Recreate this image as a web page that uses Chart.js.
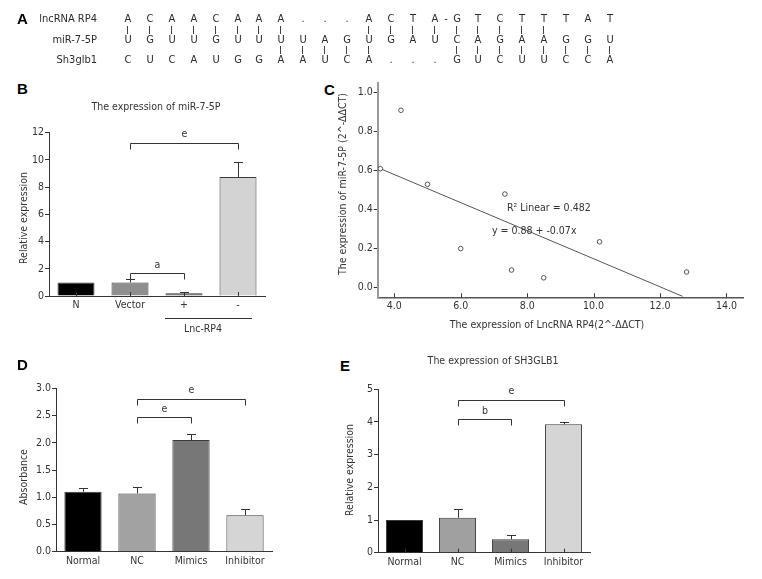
<!DOCTYPE html>
<html><head><meta charset="utf-8">
<script src="https://cdn.jsdelivr.net/npm/chart.js@4.4.1/dist/chart.umd.min.js"></script>
<style>
html,body{margin:0;padding:0;background:#fff;}
body{width:762px;height:579px;position:relative;overflow:hidden;font-family:"DejaVu Sans Condensed","DejaVu Sans",sans-serif;}
canvas{position:absolute;}
.pl{position:absolute;font:bold 15px/15px "Liberation Sans",Arial,sans-serif;color:#000;}
</style></head><body>
<canvas id="cA" width="762" height="72" style="left:0;top:0"></canvas>
<div class="pl" style="left:17px;top:11px">A</div>
<div class="pl" style="left:17px;top:81px">B</div>
<div class="pl" style="left:324px;top:82px">C</div>
<div class="pl" style="left:17px;top:357px">D</div>
<div class="pl" style="left:340px;top:358px">E</div>
<canvas id="cB" width="300" height="270" style="left:0;top:70px"></canvas>
<canvas id="cC" width="462" height="280" style="left:300px;top:60px"></canvas>
<canvas id="cD" width="300" height="239" style="left:0;top:340px"></canvas>
<canvas id="cE" width="432" height="239" style="left:330px;top:340px"></canvas>
<script>
// ---------- DATA ----------
const aRowLabels = ['lncRNA RP4','miR-7-5P','Sh3glb1'];
const seqLnc = ['A','C','A','A','C','A','A','A','.','.','.','A','C','T','A','G','T','C','T','T','T','A','T'];
const seqMir = ['U','G','U','U','G','U','U','U','U','A','G','U','G','A','U','C','A','G','A','A','G','G','U'];
const seqSh3 = ['C','U','C','A','U','G','G','A','A','U','C','A','.','.','.','G','U','C','U','U','C','C','A'];
const pairsLncMir = [0,1,2,3,4,5,6,7,11,12,13,14,15,16,17,18,19];
const pairsMirSh3 = [7,8,9,10,11,15,16,17,18,19,20,21,22];
const lncGapAfter = 14;

const bCategories = ['N','Vector','+','-'];
const bValues = [1.0, 1.0, 0.2, 8.75];
const bErrors = [0, 0.22, 0.12, 1.1];
const bColors = ['#000000','#8e8e8e','#5c5c5c','#d3d3d3'];

const cX = [3.58, 4.2, 5.0, 6.0, 7.33, 7.53, 8.5, 10.18, 12.8];
const cY = [0.61, 0.91, 0.53, 0.20, 0.48, 0.09, 0.05, 0.235, 0.08];
const cFitX = [3.5, 12.68];
const cFitY = [0.616, -0.045];

const dCategories = ['Normal','NC','Mimics','Inhibitor'];
const dValues = [1.10, 1.07, 2.05, 0.67];
const dErrors = [0.07, 0.12, 0.12, 0.11];
const dColors = ['#000000','#a2a2a2','#777777','#d5d5d5'];

const eCategories = ['Normal','NC','Mimics','Inhibitor'];
const eValues = [1.0, 1.07, 0.41, 3.93];
const eErrors = [0, 0.26, 0.13, 0.08];
const eColors = ['#000000','#a0a0a0','#777777','#d5d5d5'];

// ---------- PANEL A (sequence alignment, drawn as text) ----------
(function(){
  const ctx = document.getElementById('cA').getContext('2d');
  const col0 = 128, step = 21.9, rowY = [19, 40, 60], labelRight = 97;
  ctx.font = '11px "Liberation Sans Narrow","DejaVu Sans Condensed",sans-serif';
  ctx.fillStyle = '#2a2a2a'; ctx.textBaseline = 'middle';
  ctx.textAlign = 'right';
  aRowLabels.forEach((t,i)=>ctx.fillText(t, labelRight, rowY[i]));
  ctx.textAlign = 'center';
  [seqLnc, seqMir, seqSh3].forEach((seq,r)=>seq.forEach((ch,i)=>ctx.fillText(ch, Math.round(col0+i*step), rowY[r])));
  ctx.fillText('-', Math.round(col0+(lncGapAfter+0.5)*step), rowY[0]);
  ctx.strokeStyle = '#444'; ctx.lineWidth = 1; ctx.beginPath();
  pairsLncMir.forEach(i=>{ const x = Math.round(col0+i*step)-0.5; ctx.moveTo(x, 26); ctx.lineTo(x, 34); });
  pairsMirSh3.forEach(i=>{ const x = Math.round(col0+i*step)-0.5; ctx.moveTo(x, 46); ctx.lineTo(x, 54); });
  ctx.stroke();
})();

// ---------- PLUGINS ----------
const FONT = {family:'"DejaVu Sans Condensed","DejaVu Sans",sans-serif', size:10.5};
const FONTSTR = '10.5px "DejaVu Sans Condensed","DejaVu Sans",sans-serif';
const INK = '#333';

const errorBarPlugin = {
  id:'errbars',
  afterDatasetsDraw(chart){
    const ctx = chart.ctx; const ys = chart.scales.y;
    chart.data.datasets.forEach((ds,di)=>{
      if(!ds.errorBars) return;
      const meta = chart.getDatasetMeta(di);
      meta.data.forEach((bar,i)=>{
        const e = ds.errorBars[i]; if(!e) return;
        const y0 = ys.getPixelForValue(ds.data[i]), y1 = ys.getPixelForValue(ds.data[i]+e);
        ctx.save(); ctx.strokeStyle = INK; ctx.lineWidth = 1;
        ctx.beginPath(); ctx.moveTo(Math.round(bar.x)+0.5, y0); ctx.lineTo(Math.round(bar.x)+0.5, Math.round(y1)+0.5);
        ctx.moveTo(Math.round(bar.x)-4, Math.round(y1)+0.5); ctx.lineTo(Math.round(bar.x)+5, Math.round(y1)+0.5);
        ctx.stroke(); ctx.restore();
      });
    });
  }
};
const bracketPlugin = {
  id:'brackets',
  afterDraw(chart, args, opts){
    if(!opts || !opts.items) return;
    const ctx = chart.ctx, xs = chart.scales.x, ys = chart.scales.y;
    opts.items.forEach(b=>{
      const x1 = Math.round(xs.getPixelForValue(b.from))+0.5, x2 = Math.round(xs.getPixelForValue(b.to))+0.5;
      const y = Math.round(ys.getPixelForValue(b.at))+0.5;
      ctx.save(); ctx.strokeStyle = INK; ctx.lineWidth = 1;
      ctx.beginPath(); ctx.moveTo(x1, y+b.drop); ctx.lineTo(x1, y); ctx.lineTo(x2, y); ctx.lineTo(x2, y+b.drop); ctx.stroke();
      ctx.fillStyle = INK; ctx.font = FONTSTR; ctx.textAlign = 'center'; ctx.textBaseline = 'middle';
      ctx.fillText(b.label, (x1+x2)/2, y - b.gap);
      ctx.restore();
    });
  }
};
const textPlugin = {
  id:'texts',
  afterDraw(chart, args, opts){
    if(!opts || !opts.items) return;
    const ctx = chart.ctx;
    opts.items.forEach(t=>{
      ctx.save(); ctx.fillStyle = t.color || INK; ctx.font = t.font || FONTSTR;
      ctx.textAlign = t.align || 'center'; ctx.textBaseline = 'middle';
      ctx.translate(t.x, t.y); if(t.rot) ctx.rotate(t.rot);
      ctx.fillText(t.text, 0, 0); ctx.restore();
    });
    if(opts.lines) opts.lines.forEach(l=>{
      ctx.save(); ctx.strokeStyle = INK; ctx.lineWidth = 1; ctx.beginPath();
      ctx.moveTo(l[0], l[1]+0.5); ctx.lineTo(l[2], l[3]+0.5); ctx.stroke(); ctx.restore();
    });
  }
};
const innerTickPlugin = {
  id:'innerticks',
  afterDraw(chart, args, opts){
    if(!opts || !opts.len) return;
    const ctx = chart.ctx, xs = chart.scales.x, bottom = chart.chartArea.bottom;
    ctx.save(); ctx.strokeStyle = INK; ctx.lineWidth = 1; ctx.beginPath();
    xs.ticks.forEach((t,i)=>{ const x = Math.round(xs.getPixelForTick(i))+0.5; ctx.moveTo(x, bottom); ctx.lineTo(x, bottom-opts.len); });
    ctx.stroke(); ctx.restore();
  }
};
Chart.register(errorBarPlugin, bracketPlugin, textPlugin, innerTickPlugin);
Chart.defaults.font.family = FONT.family;
Chart.defaults.font.size = FONT.size;
Chart.defaults.color = INK;

function barChart(id, cfg){
  return new Chart(document.getElementById(id), {
    type:'bar',
    data:{ labels: cfg.labels, datasets:[{ data: cfg.values, errorBars: cfg.errors, backgroundColor: cfg.colors, borderColor:'#3a3a3a', borderWidth:1, barPercentage: cfg.barPct, categoryPercentage:1 }]},
    options:{
      responsive:false, animation:false, devicePixelRatio:1,
      layout:{ padding:{ left:0, top: cfg.padTop, right: cfg.padRight, bottom:0 } },
      plugins:{ legend:{display:false}, tooltip:{enabled:false},
        brackets:{ items: cfg.brackets }, texts:{ items: cfg.texts, lines: cfg.lines }, innerticks:{ len: cfg.innerTick || 0 } },
      scales:{
        x:{ offset:true, grid:{display:false, drawTicks:false}, border:{display:true, color:INK, width:1},
            ticks:{ color:INK, font:FONT, padding: cfg.xPad, maxRotation:0, autoSkip:false },
            afterFit: s=>{ s.height = cfg.xH; } },
        y:{ min: cfg.min, max: cfg.max,
            ticks:{ stepSize: cfg.step, color:INK, font:FONT, padding: cfg.yPad, callback: cfg.fmt },
            grid:{ display:true, drawOnChartArea:false, drawTicks:true, tickLength:4, color:INK },
            border:{ display:true, color:INK, width:1 },
            afterFit: s=>{ s.width = cfg.yW; } }
      }
    }
  });
}

// ---------- B ----------
barChart('cB', {
  labels: bCategories, values: bValues, errors: bErrors, colors: bColors, barPct: 0.685,
  padTop: 62.7, padRight: 35, xH: 44, yW: 49, min:0, max:12, step:2, xPad:3, yPad:1,
  fmt: v=>String(v), innerTick: 4,
  brackets:[ {from:1, to:3, at:11.24, drop:6, gap:9, label:'e'}, {from:1, to:2, at:1.69, drop:6, gap:8, label:'a'} ],
  texts:[ {text:'The expression of miR-7-5P', x:156, y:37},
          {text:'Relative expression', x:24, y:148, rot:-Math.PI/2},
          {text:'Lnc-RP4', x:203, y:259} ],
  lines:[ [165, 248, 252, 248] ]
});

// ---------- C ----------
new Chart(document.getElementById('cC'), {
  type:'scatter',
  data:{ datasets:[
    { data: cX.map((x,i)=>({x, y:cY[i]})), pointRadius:2.3, pointBorderWidth:0.9, pointBorderColor:'#444', pointBackgroundColor:'#fff', showLine:false },
    { data: cFitX.map((x,i)=>({x, y:cFitY[i]})), showLine:true, pointRadius:0, borderColor:'#555', borderWidth:1 }
  ]},
  options:{
    responsive:false, animation:false, devicePixelRatio:1,
    layout:{ padding:{ left:0, top:23, right:19, bottom:0 } },
    plugins:{ legend:{display:false}, tooltip:{enabled:false},
      texts:{ items:[
        {text:'The expression of miR-7-5P (2^-ΔΔCT)', x:43, y:124, rot:-Math.PI/2},
        {text:'The expression of LncRNA RP4(2^-ΔΔCT)', x:247, y:265},
        {text:'R\u00B2 Linear = 0.482', x:207, y:148, align:'left'},
        {text:'y = 0.88 + -0.07x', x:192, y:171, align:'left'}
      ]},
      innerticks:{ len:4 } },
    scales:{
      x:{ type:'linear', min:3.5, max:14.5,
          ticks:{ stepSize:2, color:INK, font:FONT, padding:3, includeBounds:false, callback:v=>v.toFixed(1) },
          grid:{ display:false, drawTicks:false }, border:{ display:true, color:'#555', width:1.5 },
          afterBuildTicks: s=>{ s.ticks = [4,6,8,10,12,14].map(v=>({value:v})); },
          afterFit: s=>{ s.height = 42.7; } },
      y:{ min:-0.05, max:1.05,
          ticks:{ stepSize:0.2, color:INK, font:FONT, padding:1, includeBounds:false, callback:v=>v.toFixed(1) },
          grid:{ display:true, drawOnChartArea:false, drawTicks:true, tickLength:4, color:INK },
          border:{ display:true, color:'#9a9a9a', width:2 },
          afterBuildTicks: s=>{ s.ticks = [0,0.2,0.4,0.6,0.8,1.0].map(v=>({value:v})); },
          afterFit: s=>{ s.width = 77.7; } }
    }
  }
});

// ---------- D ----------
barChart('cD', {
  labels: dCategories, values: dValues, errors: dErrors, colors: dColors, barPct: 0.69,
  padTop: 48.3, padRight: 28, xH: 27.3, yW: 56, min:0, max:3, step:0.5, xPad:3, yPad:1,
  fmt: v=>v.toFixed(1), innerTick: 0,
  brackets:[ {from:1, to:3, at:2.805, drop:6, gap:9, label:'e'}, {from:1, to:2, at:2.47, drop:6, gap:8, label:'e'} ],
  texts:[ {text:'Absorbance', x:24, y:137, rot:-Math.PI/2} ]
});

// ---------- E ----------
barChart('cE', {
  labels: eCategories, values: eValues, errors: eErrors, colors: eColors, barPct: 0.70,
  padTop: 49.3, padRight: 172, xH: 26.3, yW: 48, min:0, max:5, step:1, xPad:3, yPad:1,
  fmt: v=>String(v), innerTick: 4,
  brackets:[ {from:1, to:3, at:4.67, drop:6, gap:9, label:'e'}, {from:1, to:2, at:4.10, drop:6, gap:8, label:'b'} ],
  texts:[ {text:'The expression of SH3GLB1', x:163, y:21},
          {text:'Relative expression', x:20, y:130, rot:-Math.PI/2} ]
});
</script>
</body></html>
